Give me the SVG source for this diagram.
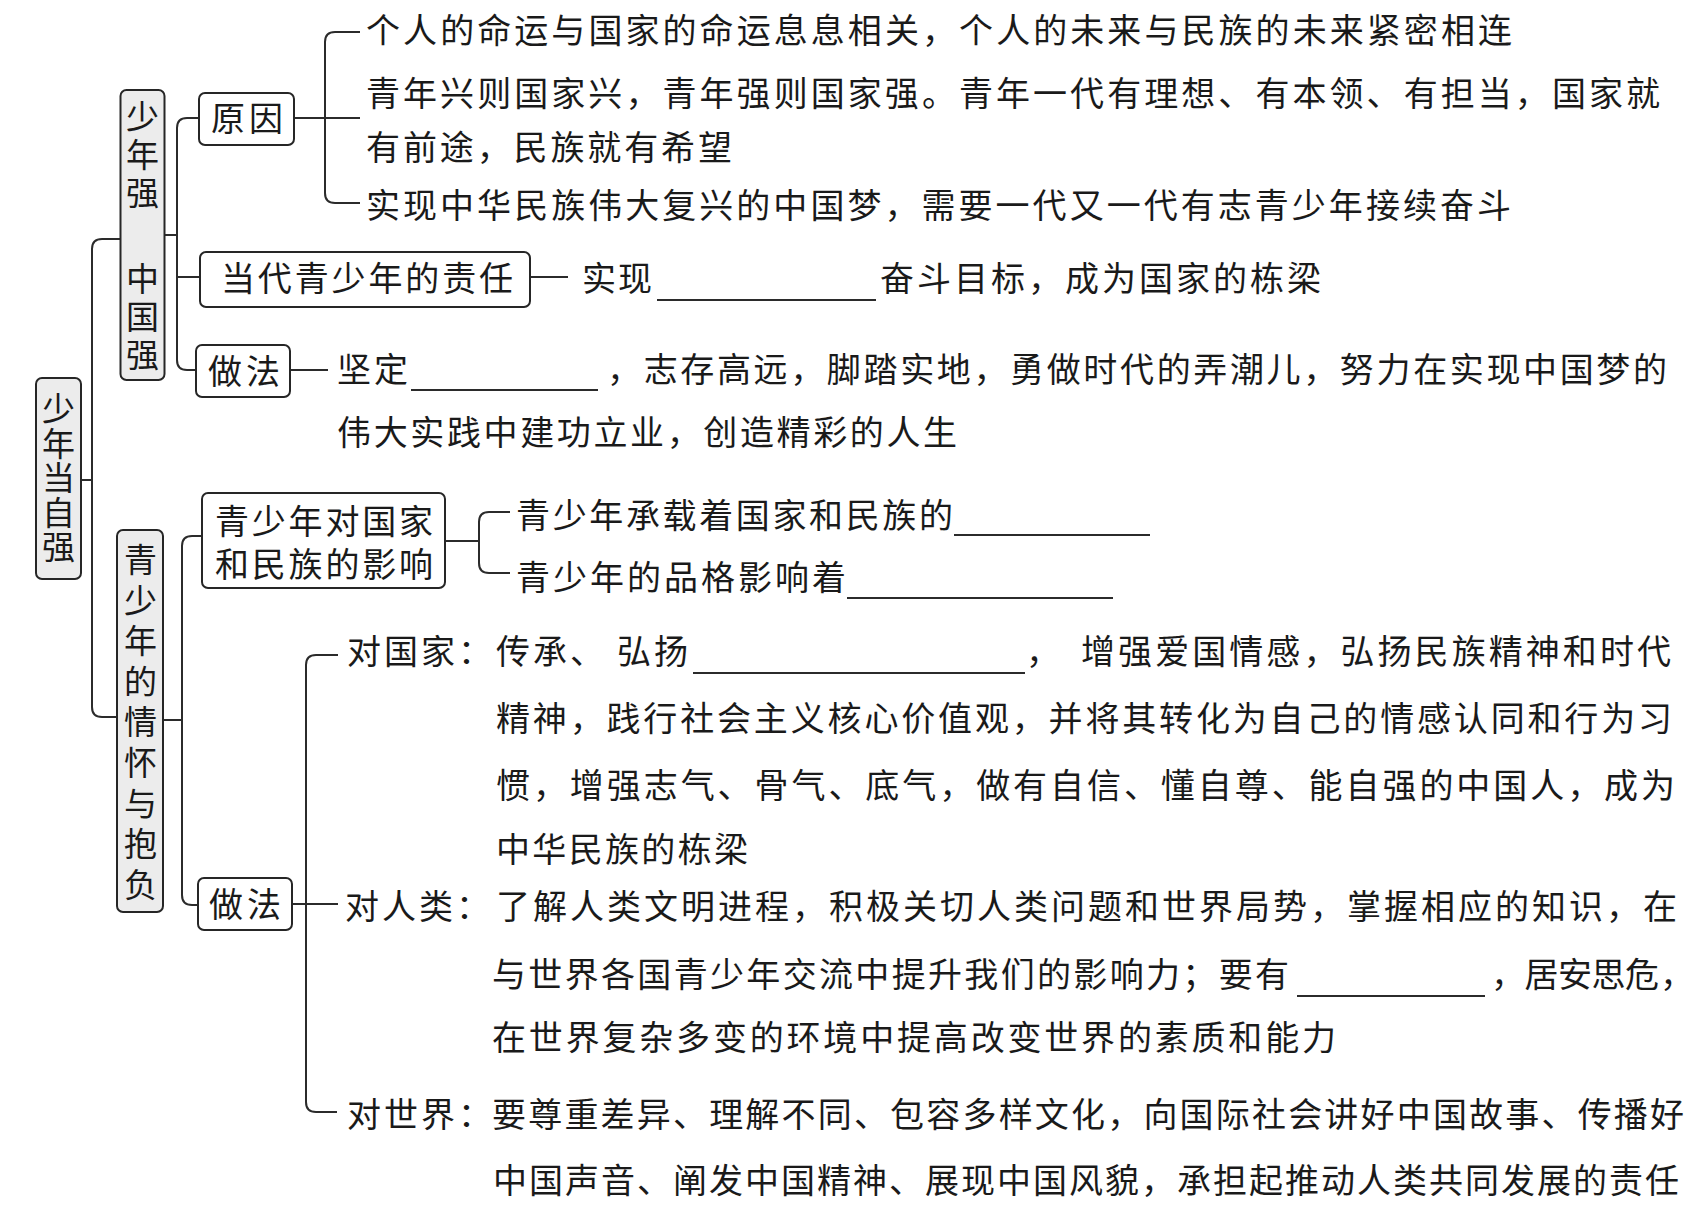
<svg xmlns="http://www.w3.org/2000/svg" width="1695" height="1206" viewBox="0 0 1695 1206">
<style>
.box{fill:#fff;stroke:#262626;stroke-width:2}
.vbox{fill:#ececec;stroke:#262626;stroke-width:2}
.conn{fill:none;stroke:#2b2b2b;stroke-width:2}
.blank{stroke:#2b2b2b;stroke-width:1.8}
.t{font-family:"Noto Sans CJK SC","Noto Sans CJK JP",sans-serif;font-size:34px;fill:#1a1a1a}
.vt{font-family:"Noto Sans CJK SC","Noto Sans CJK JP",sans-serif;font-size:33px;fill:#1a1a1a;writing-mode:vertical-rl}
</style>
<rect width="1695" height="1206" fill="#fff"/>
<g id="connectors">
<path class="conn" d="M81,480 H92"/>
<path class="conn" d="M120,239 H102 Q92,239 92,249 V707 Q92,717 102,717 H117"/>
<path class="conn" d="M164,235 H177"/>
<path class="conn" d="M199,118 H187 Q177,118 177,128 V360 Q177,370 187,370 H196"/>
<path class="conn" d="M177,277 H200"/>
<path class="conn" d="M294,118 H360"/>
<path class="conn" d="M360,32 H335 Q325,32 325,42 V193 Q325,203 335,203 H360"/>
<path class="conn" d="M530,277 H568"/>
<path class="conn" d="M290,370 H328"/>
<path class="conn" d="M163,720 H182"/>
<path class="conn" d="M202,536 H192 Q182,536 182,546 V895 Q182,905 192,905 H198"/>
<path class="conn" d="M445,541 H479"/>
<path class="conn" d="M510,512 H489 Q479,512 479,522 V563 Q479,573 489,573 H510"/>
<path class="conn" d="M292,904 H338"/>
<path class="conn" d="M338,655 H316 Q306,655 306,665 V1102 Q306,1112 316,1112 H337"/>
</g>
<g id="root">
<rect class="vbox" x="36" y="378" width="45" height="201" rx="6"/>
<text class="vt" x="58.5" y="392" letter-spacing="1.5">少年当自强</text>
</g>
<g id="n-shaonianqiang">
<rect class="vbox" x="120.5" y="90" width="44" height="290" rx="6"/>
<text class="vt" x="142.5" y="100" letter-spacing="5">少年强</text>
<text class="vt" x="142.5" y="262" letter-spacing="5">中国强</text>
</g>
<g id="n-qinghuai">
<rect class="vbox" x="117" y="530" width="46" height="382" rx="6"/>
<text class="vt" x="140.5" y="543" letter-spacing="7.6">青少年的情怀与抱负</text>
</g>
<g id="n-yuanyin">
<rect class="box" x="199" y="93" width="95" height="52" rx="6"/>
<text class="t" x="211" y="131" letter-spacing="4">原因</text>
</g>
<g id="n-zeren">
<rect class="box" x="200" y="252" width="330" height="55" rx="6"/>
<text class="t" x="221" y="291" textLength="292" lengthAdjust="spacing">当代青少年的责任</text>
</g>
<g id="n-zuofa1">
<rect class="box" x="196" y="345" width="94" height="52" rx="6"/>
<text class="t" x="208" y="384" letter-spacing="4">做法</text>
</g>
<g id="n-yingxiang">
<rect class="box" x="202" y="493" width="243" height="95" rx="6"/>
<text class="t" x="215" y="534" textLength="218" lengthAdjust="spacing">青少年对国家</text>
<text class="t" x="215" y="577" textLength="218" lengthAdjust="spacing">和民族的影响</text>
</g>
<g id="n-zuofa2">
<rect class="box" x="198" y="878" width="94" height="52" rx="6"/>
<text class="t" x="209" y="917" letter-spacing="4">做法</text>
</g>
<g id="leaf-yuanyin">
<text class="t" x="366" y="43" textLength="1146" lengthAdjust="spacing">个人的命运与国家的命运息息相关，个人的未来与民族的未来紧密相连</text>
<text class="t" x="366" y="106" textLength="1294" lengthAdjust="spacing">青年兴则国家兴，青年强则国家强。青年一代有理想、有本领、有担当，国家就</text>
<text class="t" x="366" y="160" textLength="366" lengthAdjust="spacing">有前途，民族就有希望</text>
<text class="t" x="366" y="218" textLength="1145" lengthAdjust="spacing">实现中华民族伟大复兴的中国梦，需要一代又一代有志青少年接续奋斗</text>
</g>
<g id="leaf-zeren">
<text class="t" x="582" y="291" letter-spacing="2">实现</text>
<line class="blank" x1="657" y1="300" x2="876" y2="300"/>
<text class="t" x="880" y="291" textLength="441" lengthAdjust="spacing">奋斗目标，成为国家的栋梁</text>
</g>
<g id="leaf-zuofa1">
<text class="t" x="337" y="382" letter-spacing="3">坚定</text>
<line class="blank" x1="411" y1="390" x2="598" y2="390"/>
<text class="t" x="607" y="382" textLength="1060" lengthAdjust="spacing">，志存高远，脚踏实地，勇做时代的弄潮儿，努力在实现中国梦的</text>
<text class="t" x="337" y="445" textLength="620" lengthAdjust="spacing">伟大实践中建功立业，创造精彩的人生</text>
</g>
<g id="leaf-yingxiang">
<text class="t" x="516" y="528" textLength="437" lengthAdjust="spacing">青少年承载着国家和民族的</text>
<line class="blank" x1="954" y1="535" x2="1150" y2="535"/>
<text class="t" x="516" y="590" textLength="330" lengthAdjust="spacing">青少年的品格影响着</text>
<line class="blank" x1="847" y1="598" x2="1113" y2="598"/>
</g>
<g id="leaf-zuofa2">
<text class="t" x="347" y="664" letter-spacing="3">对国家：</text>
<text class="t" x="496" y="664" letter-spacing="3">传承、</text>
<text class="t" x="617" y="664" letter-spacing="3">弘扬</text>
<line class="blank" x1="693" y1="673" x2="1025" y2="673"/>
<text class="t" x="1026" y="664">，</text>
<text class="t" x="1081" y="664" textLength="590" lengthAdjust="spacing">增强爱国情感，弘扬民族精神和时代</text>
<text class="t" x="496" y="731" textLength="1176" lengthAdjust="spacing">精神，践行社会主义核心价值观，并将其转化为自己的情感认同和行为习</text>
<text class="t" x="496" y="798" textLength="1179" lengthAdjust="spacing">惯，增强志气、骨气、底气，做有自信、懂自尊、能自强的中国人，成为</text>
<text class="t" x="496" y="862" textLength="252" lengthAdjust="spacing">中华民族的栋梁</text>
<text class="t" x="345" y="919" letter-spacing="3">对人类：</text>
<text class="t" x="496" y="919" textLength="1181" lengthAdjust="spacing">了解人类文明进程，积极关切人类问题和世界局势，掌握相应的知识，在</text>
<text class="t" x="492" y="987" textLength="797" lengthAdjust="spacing">与世界各国青少年交流中提升我们的影响力；要有</text>
<line class="blank" x1="1297" y1="996" x2="1485" y2="996"/>
<text class="t" x="1491" y="987" textLength="168" lengthAdjust="spacing">，居安思危</text>
<text class="t" x="1660" y="987">，</text>
<text class="t" x="492" y="1050" textLength="844" lengthAdjust="spacing">在世界复杂多变的环境中提高改变世界的素质和能力</text>
<text class="t" x="347" y="1127" letter-spacing="3">对世界：</text>
<text class="t" x="492" y="1127" textLength="1192" lengthAdjust="spacing">要尊重差异、理解不同、包容多样文化，向国际社会讲好中国故事、传播好</text>
<text class="t" x="493" y="1193" textLength="1186" lengthAdjust="spacing">中国声音、阐发中国精神、展现中国风貌，承担起推动人类共同发展的责任</text>
</g>
</svg>
